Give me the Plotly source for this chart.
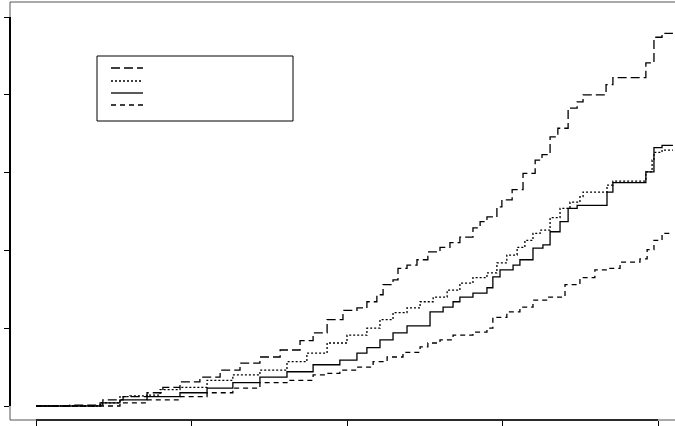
import plotly.graph_objects as go

# Series (time, cumulative value)
a_x = [0, 1.09, 2.15, 2.80, 3.57, 4.08, 4.63, 5.27, 5.92, 6.56, 7.20, 7.85, 8.49, 8.91, 9.36, 9.87,
       10.32, 10.64, 10.96, 11.16, 11.48, 11.64, 11.93, 12.25, 12.60, 12.99, 13.31, 13.63, 14.05,
       14.28, 14.50, 14.82, 14.98, 15.31, 15.66, 16.05, 16.27, 16.53, 16.78, 17.11, 17.40, 17.59,
       18.33, 18.55, 19.61, 19.87, 20.13, 20.48]
a_y = [0, 0.001, 0.008, 0.012, 0.017, 0.024, 0.031, 0.037, 0.046, 0.055, 0.063, 0.072, 0.084, 0.094,
       0.111, 0.123, 0.126, 0.134, 0.143, 0.156, 0.162, 0.177, 0.181, 0.188, 0.198, 0.204, 0.210,
       0.217, 0.229, 0.237, 0.243, 0.256, 0.265, 0.278, 0.299, 0.316, 0.323, 0.346, 0.357, 0.383,
       0.391, 0.400, 0.413, 0.422, 0.441, 0.474, 0.479, 0.479]

b_x = [0, 2.06, 2.70, 3.02, 3.57, 3.99, 4.63, 5.50, 6.33, 7.20, 8.07, 8.71, 9.36, 10.00, 10.64,
       11.06, 11.48, 11.93, 12.35, 12.77, 13.22, 13.63, 14.05, 14.50, 14.82, 15.14, 15.47, 15.72,
       15.98, 16.21, 16.53, 16.85, 17.17, 17.49, 17.59, 18.36, 18.55, 19.61, 19.81, 19.87, 20.13, 20.48]
b_y = [0, 0.004, 0.012, 0.013, 0.014, 0.021, 0.024, 0.033, 0.040, 0.046, 0.057, 0.068, 0.081, 0.091,
       0.100, 0.111, 0.120, 0.126, 0.134, 0.140, 0.149, 0.158, 0.165, 0.171, 0.184, 0.194, 0.204,
       0.213, 0.222, 0.226, 0.242, 0.254, 0.262, 0.269, 0.275, 0.284, 0.289, 0.301, 0.316, 0.326,
       0.329, 0.329]

c_x = [0, 2.06, 2.70, 3.57, 4.63, 5.50, 6.33, 7.20, 8.07, 8.91, 9.77, 10.32, 10.64, 11.06, 11.48,
       11.93, 12.67, 13.09, 13.41, 13.63, 14.05, 14.50, 14.69, 14.92, 15.34, 15.56, 15.98, 16.30,
       16.53, 16.85, 17.11, 17.40, 18.36, 18.55, 19.61, 19.87, 20.13, 20.48]
c_y = [0, 0.004, 0.008, 0.012, 0.017, 0.023, 0.030, 0.037, 0.044, 0.053, 0.059, 0.068, 0.075, 0.085,
       0.094, 0.103, 0.121, 0.127, 0.134, 0.140, 0.145, 0.152, 0.166, 0.175, 0.181, 0.188, 0.203,
       0.207, 0.224, 0.237, 0.254, 0.258, 0.275, 0.287, 0.301, 0.332, 0.335, 0.335]

d_x = [0, 2.70, 3.57, 4.63, 5.50, 6.33, 7.20, 8.07, 8.91, 9.36, 9.77, 10.32, 10.84, 11.29, 11.80,
       12.35, 12.60, 12.99, 13.41, 14.05, 14.50, 14.69, 15.14, 15.56, 15.98, 16.46, 17.01, 17.49,
       17.97, 18.36, 18.78, 19.42, 19.65, 19.87, 20.13, 20.48]
d_y = [0, 0.004, 0.008, 0.012, 0.017, 0.023, 0.030, 0.033, 0.040, 0.042, 0.046, 0.050, 0.057, 0.063,
       0.069, 0.076, 0.081, 0.085, 0.091, 0.095, 0.100, 0.114, 0.121, 0.127, 0.136, 0.140, 0.156,
       0.165, 0.175, 0.177, 0.185, 0.189, 0.201, 0.213, 0.222, 0.222]

x_ticks = [0, 5, 10, 15, 20]
y_ticks = [0, 0.1, 0.2, 0.3, 0.4, 0.5]

series = [
    (a_x, a_y, "9px,4px"),
    (b_x, b_y, "2px,2px"),
    (c_x, c_y, "solid"),
    (d_x, d_y, "5px,4px"),
]

fig = go.Figure()
for xs, ys, dash in series:
    fig.add_trace(go.Scatter(x=xs, y=ys, mode="lines", line=dict(color="black", width=1.3, dash=dash, shape="hv"),
                             showlegend=False, hoverinfo="skip"))

W, H = 675, 426
ml, mr, mt, mb = 10, 0, 2, 6
pw, ph = W - ml - mr, H - mt - mb

def px(xp):
    return (xp - ml) / pw

def py(yp):
    return (H - mb - yp) / ph

shapes = []
box = "#555555"
# frame: top, left, bottom
shapes.append(dict(type="line", xref="paper", yref="paper", x0=0, x1=1, y0=1, y1=1, line=dict(color=box, width=1)))
shapes.append(dict(type="line", xref="paper", yref="paper", x0=0, x1=0, y0=0, y1=1, line=dict(color=box, width=1)))
shapes.append(dict(type="line", xref="paper", yref="paper", x0=0, x1=1, y0=0, y1=0, line=dict(color=box, width=1)))
# axis lines spanning tick range
shapes.append(dict(type="line", xref="paper", yref="y", x0=0, x1=0, y0=y_ticks[0], y1=y_ticks[-1], line=dict(color="black", width=2)))
shapes.append(dict(type="line", xref="x", yref="paper", x0=x_ticks[0], x1=x_ticks[-1], y0=0, y1=0, line=dict(color="black", width=1.5)))
# legend box
shapes.append(dict(type="rect", xref="paper", yref="paper", x0=px(97), x1=px(293), y0=py(121), y1=py(56),
                   line=dict(color="black", width=1), fillcolor="white"))
for (_, _, dash), yy in zip(series, [68, 81, 93, 105]):
    shapes.append(dict(type="line", xref="paper", yref="paper", x0=px(111), x1=px(143), y0=py(yy), y1=py(yy),
                       line=dict(color="black", width=1.3, dash=dash)))

fig.update_layout(
    width=W, height=H,
    margin=dict(l=ml, r=mr, t=mt, b=mb),
    paper_bgcolor="white", plot_bgcolor="white",
    shapes=shapes,
    showlegend=False,
    xaxis=dict(range=[(10 - 36) / 31.1, (675 - 36) / 31.1], tickvals=x_ticks, showticklabels=False,
               ticks="outside", ticklen=6, tickcolor="black", tickwidth=1,
               showgrid=False, zeroline=False, showline=False),
    yaxis=dict(range=[-14 / 778, 404 / 778], tickvals=y_ticks, showticklabels=False,
               ticks="outside", ticklen=5, tickcolor="black", tickwidth=1,
               showgrid=False, zeroline=False, showline=False),
)

fig.write_html("out.html", config={"displayModeBar": False},
               post_script="document.body.style.margin='0';document.body.style.padding='0';")
